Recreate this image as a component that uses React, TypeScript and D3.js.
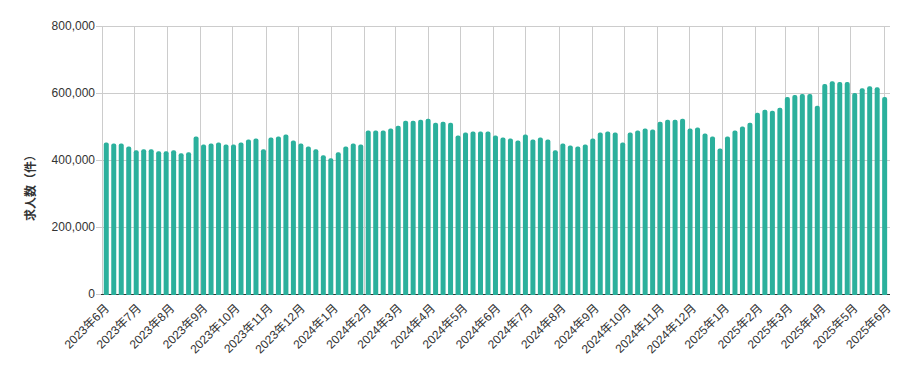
import React, { useEffect, useRef } from 'react';
import * as d3 from 'd3';

const width = 909;
const height = 371;
const margin = { top: 26, right: 19, bottom: 77, left: 102 };

// weekly (Monday) observations, first week 2023-06-05
const firstWeek = new Date(2023, 5, 5);
const lastWeek = new Date(2025, 5, 2);
// job postings, in thousands
const postings = [
  452, 449, 449, 440, 429, 432, 432, 426, 426, 429, 420, 423, 470, 446, 449, 452, 446, 446, 452, 461, 464, 432, 467, 470, 476, 458, 449,
  440, 432, 414, 405, 423, 440, 449, 446, 488, 488, 488, 494, 502, 517, 517, 520, 523, 511, 514, 511, 473, 482, 485, 485, 485, 473, 467,
  464, 458, 476, 461, 467, 461, 429, 449, 443, 440, 446, 464, 482, 485, 482, 452, 482, 488, 494, 491, 514, 520, 520, 523, 494, 497,
  479, 470, 434, 470, 488, 500, 511, 541, 550, 547, 556, 588, 594, 597, 597, 562, 627, 635, 633, 633, 600, 614, 620, 617, 588,
];
const yTicks = [0, 200000, 400000, 600000, 800000];
const yLabel = '求人数（件）';

const barColor = '#2bb09c';
const gridColor = '#cccccc';
const font = '"Liberation Sans", Arial, "Noto Sans CJK JP", sans-serif';

const App = () => {
  const ref = useRef(null);

  useEffect(() => {
    const svg = d3.select(ref.current);
    svg.selectAll('*').remove();

    const weeks = d3.timeMonday.range(firstWeek, d3.timeDay.offset(lastWeek, 1));
    const data = weeks.map((d, i) => ({ date: d, value: postings[i] * 1000 }));

    const x = d3.scaleTime()
      .domain([new Date(2023, 5, 1), new Date(2025, 5, 7)])
      .range([margin.left, width - margin.right]);
    const y = d3.scaleLinear()
      .domain([0, 800000])
      .range([height - margin.bottom, margin.top]);

    const months = d3.timeMonth.range(new Date(2023, 5, 1), new Date(2025, 5, 2));
    const y0 = y(0);

    // grid
    svg.append('g')
      .selectAll('line')
      .data(yTicks.slice(1))
      .join('line')
      .attr('x1', margin.left - 1).attr('x2', width - margin.right)
      .attr('y1', d => Math.round(y(d)) + 0.5).attr('y2', d => Math.round(y(d)) + 0.5)
      .attr('stroke', gridColor);

    svg.append('g')
      .selectAll('line')
      .data(months)
      .join('line')
      .attr('x1', d => Math.round(x(d)) + 0.5).attr('x2', d => Math.round(x(d)) + 0.5)
      .attr('y1', margin.top).attr('y2', y0)
      .attr('stroke', gridColor);

    // y axis ticks + labels
    const yAxis = svg.append('g');
    yAxis.selectAll('line')
      .data(yTicks)
      .join('line')
      .attr('x1', margin.left - 6).attr('x2', margin.left)
      .attr('y1', d => Math.round(y(d)) + 0.5).attr('y2', d => Math.round(y(d)) + 0.5)
      .attr('stroke', gridColor);
    yAxis.selectAll('text')
      .data(yTicks)
      .join('text')
      .attr('x', margin.left - 7)
      .attr('y', d => y(d))
      .attr('dy', '0.35em')
      .attr('text-anchor', 'end')
      .style('font', `12px ${font}`)
      .attr('fill', '#333')
      .text(d => d3.format(',')(d));

    svg.append('text')
      .attr('transform', `translate(31,${(margin.top + y0) / 2 + 25}) rotate(-90)`)
      .attr('text-anchor', 'middle')
      .attr('dy', '0.35em')
      .style('font', `bold 12px ${font}`)
      .attr('fill', '#333')
      .text(yLabel);

    // baseline
    svg.append('line')
      .attr('x1', margin.left - 1).attr('x2', width - margin.right)
      .attr('y1', Math.round(y0) + 0.5).attr('y2', Math.round(y0) + 0.5)
      .attr('stroke', '#333');

    // bars with rounded tops
    const bw = 5;
    const r = 2;
    svg.append('g')
      .selectAll('path')
      .data(data)
      .join('path')
      .attr('fill', barColor)
      .attr('d', d => {
        const cx = x(d.date);
        const l = cx - bw / 2;
        const t = y(d.value);
        const b = y0 + 1;
        return `M${l},${b}V${t + r}Q${l},${t} ${l + r},${t}H${l + bw - r}Q${l + bw},${t} ${l + bw},${t + r}V${b}Z`;
      });

    // x labels
    svg.append('g')
      .selectAll('text')
      .data(months)
      .join('text')
      .attr('transform', d => `translate(${x(d) + 5},${y0 + 12}) rotate(-45)`)
      .attr('text-anchor', 'end')
      .attr('dy', '0.35em')
      .style('font', `12px ${font}`)
      .attr('fill', '#333')
      .text(d => `${d.getFullYear()}年${d.getMonth() + 1}月`);
  }, []);

  return (
    <svg
      ref={ref}
      width={width}
      height={height}
      style={{ position: 'absolute', left: 0, top: 0, background: 'white' }}
    />
  );
};

export default App;
